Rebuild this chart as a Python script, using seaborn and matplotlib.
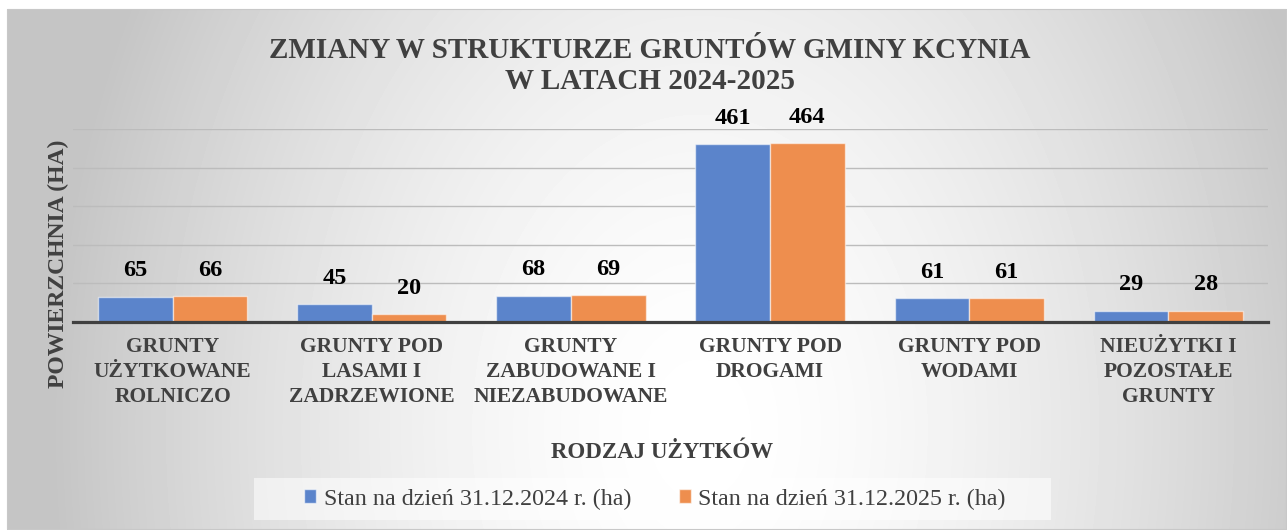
import numpy as np
import pandas as pd
import matplotlib
matplotlib.use("Agg")
import matplotlib.pyplot as plt
from matplotlib.patches import Rectangle, Patch
import seaborn as sns

# ---- data -------------------------------------------------------------
categories = [
    "GRUNTY\nUŻYTKOWANE\nROLNICZO",
    "GRUNTY POD\nLASAMI I\nZADRZEWIONE",
    "GRUNTY\nZABUDOWANE I\nNIEZABUDOWANE",
    "GRUNTY POD\nDROGAMI",
    "GRUNTY POD\nWODAMI",
    "NIEUŻYTKI I\nPOZOSTAŁE\nGRUNTY",
]
series_names = ["Stan na dzień 31.12.2024 r. (ha)", "Stan na dzień 31.12.2025 r. (ha)"]
values_2024 = [65, 45, 68, 461, 61, 29]
values_2025 = [66, 20, 69, 464, 61, 28]
grid_values = [0, 100, 200, 300, 400, 500]

title_text = "ZMIANY W STRUKTURZE GRUNTÓW GMINY KCYNIA\nW LATACH 2024-2025"
x_title = "RODZAJ UŻYTKÓW"
y_title = "POWIERZCHNIA (HA)"

# ---- style ------------------------------------------------------------
sns.set_style("white")
plt.rcParams["font.family"] = ["Liberation Serif", "Times New Roman", "DejaVu Serif"]

BLUE = "#5B84CB"
ORANGE = "#EE8E4E"
TEXT = "#404040"

W, H = 1287, 530
fig = plt.figure(figsize=(W / 100, H / 100), dpi=100)
fig.patch.set_facecolor("white")

# ---- chart area with a soft radial gradient ---------------------------
bg = fig.add_axes([0, 0, 1, 1], zorder=0)
bg.set_xlim(0, W)
bg.set_ylim(H, 0)
bg.axis("off")

cx0, cy0, cx1, cy1 = 7, 9, W, H
xs = np.arange(cx0, cx1) + 0.5
ys = np.arange(cy0, cy1) + 0.5
X, Y = np.meshgrid(xs, ys)
r = np.sqrt(((X - 700) / 650.0) ** 2 + ((Y - 430) / 900.0) ** 2)
r = np.clip(r, 0, 1)
shade = 1 - 0.23 * r ** 1.6
bg.imshow(shade, cmap="gray", vmin=0, vmax=1, extent=(cx0, cx1, cy1, cy0),
          interpolation="bilinear", aspect="auto")
bg.add_patch(Rectangle((cx0, cy0), cx1 - cx0 - 1, cy1 - cy0 - 1, fill=False,
                       edgecolor="#c8c8c8", lw=0.8))

# ---- plot area ----------------------------------------------------------
left, right, top, bottom = 73, 1268, 129.3, 321.7
ax = fig.add_axes([left / W, 1 - bottom / H, (right - left) / W, (bottom - top) / H], zorder=2)
ax.patch.set_alpha(0)

df = pd.DataFrame({
    "kategoria": categories * 2,
    "seria": [series_names[0]] * len(categories) + [series_names[1]] * len(categories),
    "wartosc": values_2024 + values_2025,
})

sns.barplot(data=df, x="kategoria", y="wartosc", hue="seria",
            palette=[BLUE, ORANGE], saturation=1, width=0.75,
            edgecolor=(1, 1, 1, 0.55), linewidth=1.0, legend=False, ax=ax, zorder=3)

ax.set_ylim(0, 500)
ax.set_xlim(-0.5, len(categories) - 0.5)
ax.set_yticks(grid_values)
ax.set_yticklabels([])
ax.yaxis.grid(True, color="#bcbcbc", lw=1.0, zorder=1)
ax.set_axisbelow(True)
ax.tick_params(axis="both", length=0)
ax.tick_params(axis="x", pad=11)
for s in ("left", "right", "top"):
    ax.spines[s].set_visible(False)
ax.spines["bottom"].set_color(TEXT)
ax.spines["bottom"].set_linewidth(2.3)
ax.spines["bottom"].set_zorder(5)

ax.set_xticks(range(len(categories)))
ax.set_xticklabels(categories, fontsize=15.5, fontweight="bold", color=TEXT,
                   linespacing=1.32)
ax.set_xlabel("")
ax.set_ylabel("")

# value labels above each bar
for container, vals in zip(ax.containers, (values_2024, values_2025)):
    for bar, v in zip(container, vals):
        ax.annotate(f"{v}", (bar.get_x() + bar.get_width() / 2, v),
                    xytext=(0, 26), textcoords="offset pixels",
                    ha="center", va="center", fontsize=17.5,
                    fontweight="bold", color="black", zorder=6)

# ---- titles -------------------------------------------------------------
fig.text(650 / W, 1 - 66 / H, title_text, ha="center", va="center",
         fontsize=21, fontweight="bold", color=TEXT, linespacing=1.22)
fig.text(662 / W, 1 - 453 / H, x_title, ha="center", va="center",
         fontsize=16.5, fontweight="bold", color=TEXT)
fig.text(58 / W, 1 - 264 / H, y_title, ha="center", va="center", rotation=90,
         fontsize=17, fontweight="bold", color=TEXT)

# ---- legend -------------------------------------------------------------
bg.add_patch(Rectangle((254, 478), 797, 42, facecolor="white", alpha=0.55,
                       edgecolor="none"))
handles = [Patch(facecolor=BLUE, edgecolor=(1, 1, 1, 0.6)),
           Patch(facecolor=ORANGE, edgecolor=(1, 1, 1, 0.6))]
leg = fig.legend(handles, series_names, loc="center",
                 bbox_to_anchor=(655 / W, 1 - 499 / H), ncol=2, frameon=False,
                 handlelength=0.5, handleheight=0.5, handletextpad=0.3,
                 columnspacing=2.0, prop={"family": "Liberation Serif", "size": 17.3})
for t in leg.get_texts():
    t.set_color(TEXT)

fig.savefig("out.png", dpi=100)
